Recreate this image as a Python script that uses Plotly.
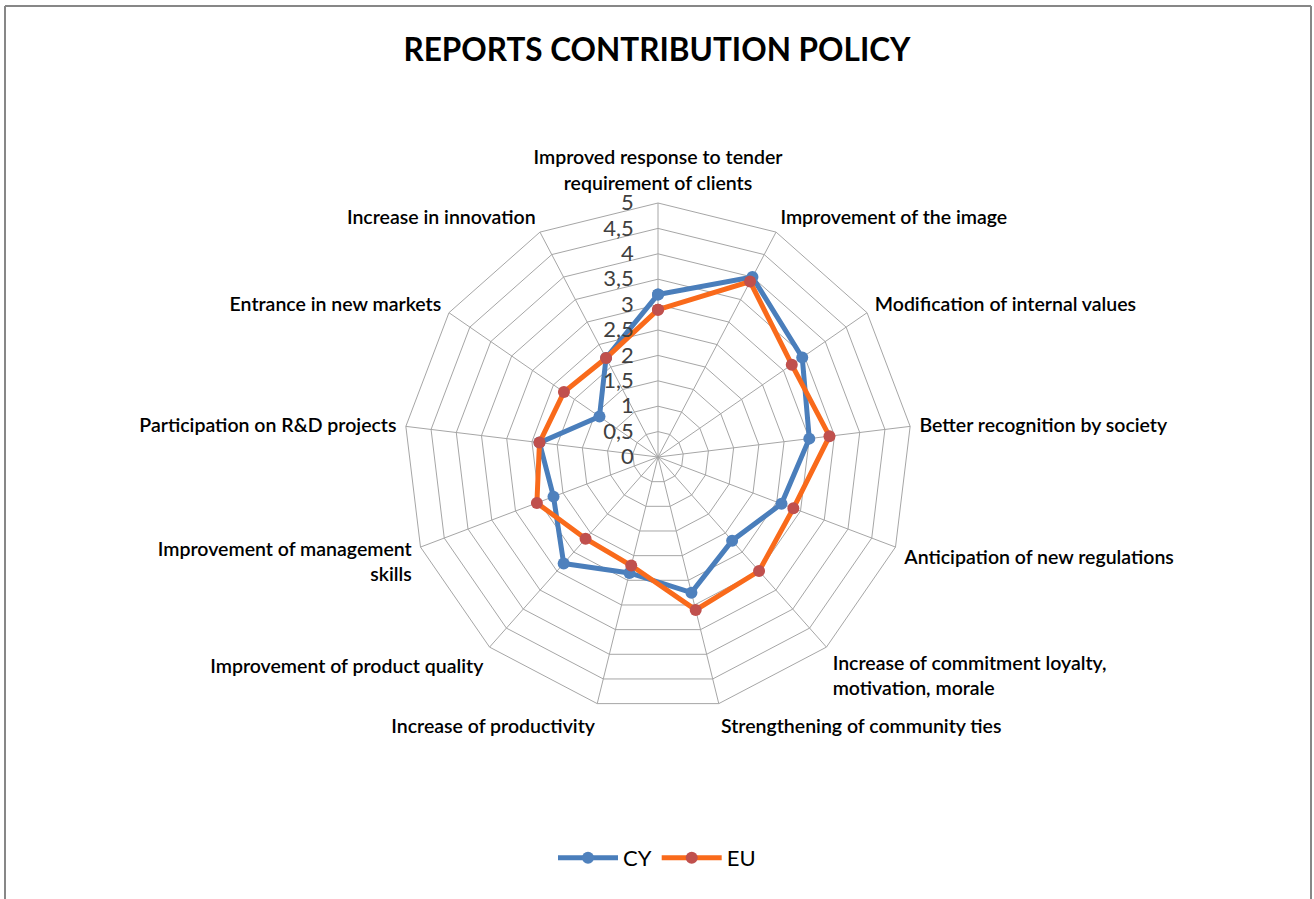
import plotly.graph_objects as go

categories = [
    "Improved response to tender<br>requirement of clients",
    "Improvement of the image",
    "Modification of internal values",
    "Better recognition by society",
    "Anticipation of new regulations",
    "Increase of commitment loyalty,<br>motivation, morale",
    "Strengthening of community ties",
    "Increase of productivity",
    "Improvement of product quality",
    "Improvement of management<br>skills",
    "Participation on R&D projects",
    "Entrance in new markets",
    "Increase in innovation",
]
cy_values = [3.2, 4.0, 3.45, 3.0, 2.6, 2.2, 2.75, 2.35, 2.8, 2.2, 2.35, 1.4, 2.2]
eu_values = [2.9, 3.9, 3.2, 3.4, 2.85, 3.0, 3.1, 2.2, 2.15, 2.55, 2.35, 2.25, 2.2]
radial_ticks = [0, 0.5, 1, 1.5, 2, 2.5, 3, 3.5, 4, 4.5, 5]

W, H = 1314, 899
cx, cy_px, R = 658, 457, 254

FONT = "Lato"

fig = go.Figure()
fig.add_trace(go.Scatterpolar(
    r=cy_values + cy_values[:1], theta=categories + categories[:1], name="CY",
    mode="lines+markers",
    line=dict(color="#4A7EBB", width=5),
    marker=dict(color="#4F81BD", size=12),
))
fig.add_trace(go.Scatterpolar(
    r=eu_values + eu_values[:1], theta=categories + categories[:1], name="EU",
    mode="lines+markers",
    line=dict(color="#F96A1B", width=5),
    marker=dict(color="#C0504D", size=12),
))

grid = "#A6A6A6"
fig.update_layout(
    width=W, height=H, autosize=False,
    margin=dict(l=0, r=0, t=0, b=0),
    paper_bgcolor="white", plot_bgcolor="white",
    separators=", ",
    font=dict(family=FONT, color="#000000"),
    title=dict(text="<b>REPORTS CONTRIBUTION POLICY</b>", x=0.5, xanchor="center",
               y=1 - 50 / H, yanchor="middle", yref="paper",
               font=dict(family=FONT, size=31.5, color="#000000")),
    polar=dict(
        domain=dict(x=[(cx - R) / W, (cx + R) / W],
                    y=[(H - cy_px - R) / H, (H - cy_px + R) / H]),
        gridshape="linear",
        bgcolor="white",
        radialaxis=dict(range=[0, 5], tickvals=radial_ticks, angle=90, tickangle=90,
                        side="counterclockwise",
                        showline=False, gridcolor=grid, gridwidth=1,
                        ticks="outside", ticklen=16, tickcolor="rgba(0,0,0,0)",
                        tickfont=dict(family=FONT, size=22, color="#404040")),
        angularaxis=dict(rotation=90, direction="clockwise", showline=True,
                         linecolor=grid, linewidth=1, gridcolor=grid, gridwidth=1,
                         ticks="outside", ticklen=5, tickcolor="rgba(0,0,0,0)",
                         tickfont=dict(family=FONT, size=19.5, color="#000000", weight=600)),
    ),
    legend=dict(orientation="h", x=0.5, xanchor="center", y=1 - 858 / H, yanchor="middle",
                font=dict(family=FONT, size=22, color="#000000"),
                itemwidth=60, bgcolor="rgba(0,0,0,0)"),
    shapes=[
        dict(type="line", xref="paper", yref="paper", x0=5 / W, x1=1311 / W, y0=1 - 6 / H, y1=1 - 6 / H,
             line=dict(color="#878787", width=2)),
        dict(type="line", xref="paper", yref="paper", x0=5 / W, x1=5 / W, y0=1 - 6 / H, y1=-0.01,
             line=dict(color="#878787", width=2)),
        dict(type="line", xref="paper", yref="paper", x0=1311 / W, x1=1311 / W, y0=1 - 6 / H, y1=-0.01,
             line=dict(color="#878787", width=2)),
    ],
)

fig.write_html("out.html")
